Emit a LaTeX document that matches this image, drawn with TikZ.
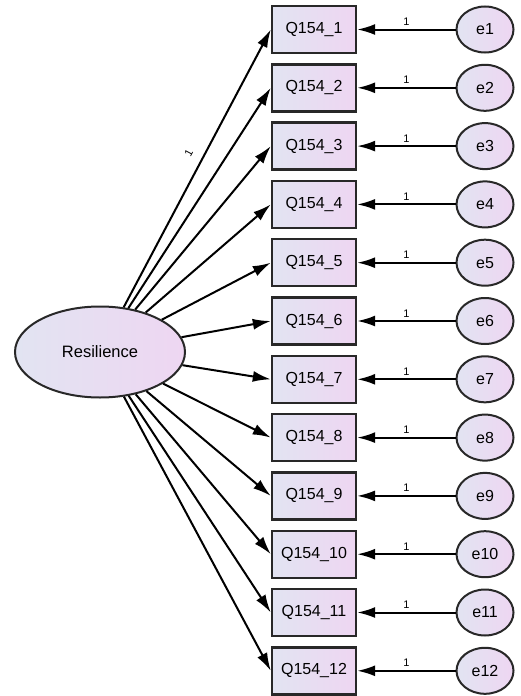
\documentclass[tikz,border=0pt]{standalone}
\usepackage{fontspec}
\setmainfont{Liberation Sans}
\usetikzlibrary{arrows.meta,shapes.geometric}
\definecolor{fillL}{RGB}{226,228,242}
\definecolor{fillR}{RGB}{238,214,242}
\definecolor{edge}{RGB}{40,40,40}
\begin{document}
\begin{tikzpicture}[x=1pt,y=-1pt,
  indicator/.style={draw=edge, line width=2.4pt, left color=fillL, right color=fillR,
    minimum width=84pt, minimum height=47pt, inner sep=0pt,
    font=\fontsize{16}{18}\selectfont},
  errvar/.style={ellipse, draw=edge, line width=2pt, left color=fillL, right color=fillR,
    minimum width=57pt, minimum height=46pt, inner sep=0pt,
    font=\fontsize{16}{18}\selectfont},
  latent/.style={ellipse, draw=edge, line width=2pt, left color=fillL, right color=fillR,
    minimum width=170pt, minimum height=91pt, inner sep=0pt,
    font=\fontsize{16.5}{18}\selectfont},
  regpath/.style={-{Latex[length=18pt,width=11pt]}, line width=2pt, draw=black},
  weight/.style={font=\fontsize{11}{12}\selectfont, inner sep=2pt}
]
\useasboundingbox (0,0) rectangle (520,696);

% latent factor
\node[latent] (res) at (100,352) {Resilience};

% indicators and their error terms
\foreach \i in {1,...,12} {
  \pgfmathsetmacro\yy{29.5+58.3*(\i-1)}
  \node[indicator] (q\i) at (314,\yy) {Q154\_\i};
  \node[errvar] (e\i) at (485,\yy) {e\i};
  \draw[regpath] (e\i) -- node[weight, above=1pt] {1} (q\i);
}

% factor loadings
\draw[regpath] (res) -- node[weight, sloped, above=8pt, pos=0.53] {1} (q1.west);
\foreach \i in {2,...,12} {
  \draw[regpath] (res) -- (q\i.west);
}
\end{tikzpicture}
\end{document}
